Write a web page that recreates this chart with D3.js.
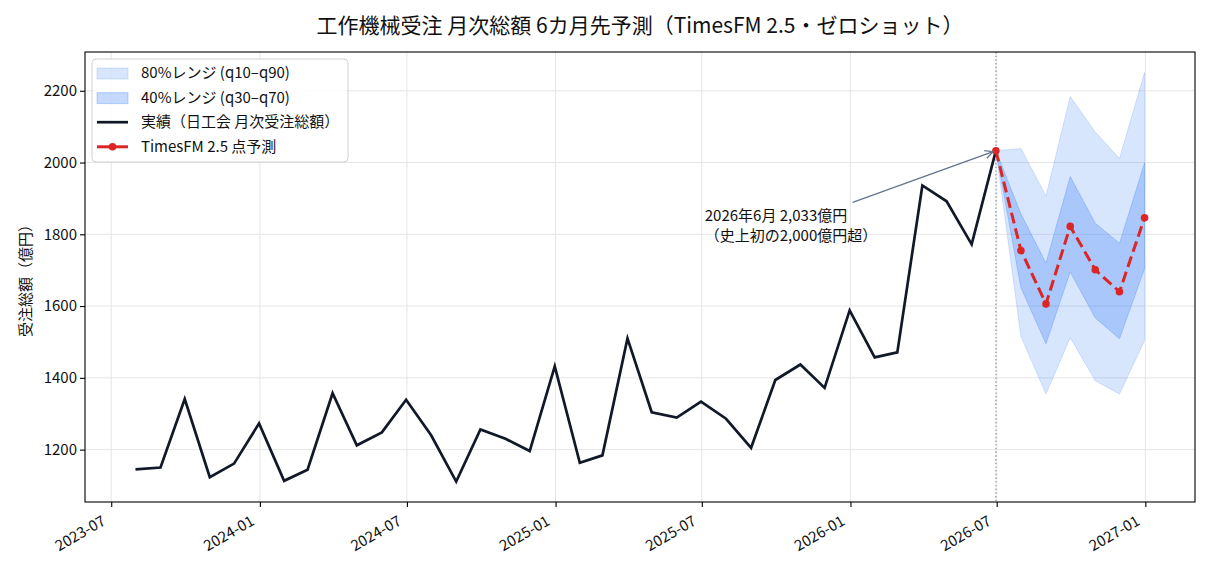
<!DOCTYPE html>
<html>
<head>
<meta charset="utf-8">
<script src="https://cdn.jsdelivr.net/npm/d3@7"></script>
<style>
  body { margin: 0; background: #fff; }
  svg text { font-family: "Noto Sans CJK JP", "Noto Sans", sans-serif; fill: #111; }
</style>
</head>
<body>
<svg id="chart" width="1210" height="572"></svg>
<script>
// actual monthly totals (億円), labelled by month, plotted at month end
const actualMonths = [
  "2023-07","2023-08","2023-09","2023-10","2023-11","2023-12",
  "2024-01","2024-02","2024-03","2024-04","2024-05","2024-06",
  "2024-07","2024-08","2024-09","2024-10","2024-11","2024-12",
  "2025-01","2025-02","2025-03","2025-04","2025-05","2025-06",
  "2025-07","2025-08","2025-09","2025-10","2025-11","2025-12",
  "2026-01","2026-02","2026-03","2026-04","2026-05","2026-06"
];
const actualValues = [
  1145, 1150, 1341, 1123, 1161, 1273,
  1113, 1144, 1357, 1212, 1248, 1339,
  1240, 1111, 1256, 1230, 1196, 1432,
  1163, 1184, 1510, 1304, 1289, 1334,
  1286, 1205, 1394, 1437, 1372, 1588,
  1457, 1471, 1936, 1892, 1772, 2033
];

// TimesFM forecast, 6 months ahead
const forecastMonths = ["2026-07","2026-08","2026-09","2026-10","2026-11","2026-12"];
const pointForecast = [1755, 1606, 1822, 1701, 1640, 1846];
const q10 = [1515, 1355, 1512, 1392, 1355, 1504];
const q30 = [1651, 1495, 1695, 1567, 1509, 1704];
const q70 = [1857, 1720, 1961, 1831, 1775, 1999];
const q90 = [2039, 1907, 2184, 2085, 2011, 2251];

const xTickMonths = ["2023-07","2024-01","2024-07","2025-01","2025-07","2026-01","2026-07","2027-01"];
const yTicks = [1200, 1400, 1600, 1800, 2000, 2200];

const titleText = "工作機械受注 月次総額 6カ月先予測（TimesFM 2.5・ゼロショット）";
const yLabel = "受注総額（億円）";
const legendLabels = ["80%レンジ (q10–q90)", "40%レンジ (q30–q70)", "実績（日工会 月次受注総額）", "TimesFM 2.5 点予測"];
const noteLines = ["2026年6月 2,033億円", "（史上初の2,000億円超）"];

const parseMonth = d3.timeParse("%Y-%m");
const monthEnd = s => d3.timeDay.offset(d3.timeMonth.offset(parseMonth(s), 1), -1);

const margin = {top: 52, right: 15, bottom: 70, left: 85};
const W = 1210, H = 572;
const width = W - margin.left - margin.right;
const height = H - margin.top - margin.bottom;

const BLUE = "#3b82f6", NAVY = "#111827", RED = "#dc2626", SLATE = "#64748b";

const actual = actualMonths.map((m, i) => ({date: monthEnd(m), value: actualValues[i]}));
const last = actual[actual.length - 1];
const fc = [{date: last.date, p: last.value, q10: last.value, q30: last.value, q70: last.value, q90: last.value}]
  .concat(forecastMonths.map((m, i) => ({
    date: monthEnd(m), p: pointForecast[i], q10: q10[i], q30: q30[i], q70: q70[i], q90: q90[i]
  })));

// matplotlib-style 5% margins
const t0 = actual[0].date, t1 = fc[fc.length - 1].date;
const tPad = (t1 - t0) * 0.05;
const x = d3.scaleTime()
  .domain([new Date(+t0 - tPad), new Date(+t1 + tPad)])
  .range([0, width]);

const allVals = actualValues.concat(q10, q90);
const vMin = d3.min(allVals), vMax = d3.max(allVals);
const vPad = (vMax - vMin) * 0.05;
const y = d3.scaleLinear().domain([vMin - vPad, vMax + vPad]).range([height, 0]);

const svg = d3.select("#chart");

svg.append("text")
  .attr("x", margin.left + width / 2)
  .attr("y", 33)
  .attr("text-anchor", "middle")
  .attr("font-size", "21px")
  .text(titleText);

const g = svg.append("g").attr("transform", `translate(${margin.left},${margin.top})`);

// grid
const xTicks = xTickMonths.map(parseMonth);
g.append("g").selectAll("line").data(xTicks).join("line")
  .attr("x1", d => x(d)).attr("x2", d => x(d))
  .attr("y1", 0).attr("y2", height)
  .attr("stroke", "#e6e6e6").attr("stroke-width", 1);
g.append("g").selectAll("line").data(yTicks).join("line")
  .attr("x1", 0).attr("x2", width)
  .attr("y1", d => y(d)).attr("y2", d => y(d))
  .attr("stroke", "#e6e6e6").attr("stroke-width", 1);

// bands
const area = (lo, hi) => d3.area().x(d => x(d.date)).y0(d => y(d[lo])).y1(d => y(d[hi]));
g.append("path").datum(fc)
  .attr("d", area("q10", "q90"))
  .attr("fill", BLUE).attr("fill-opacity", 0.2)
  .attr("stroke", BLUE).attr("stroke-opacity", 0.2).attr("stroke-width", 1);
g.append("path").datum(fc)
  .attr("d", area("q30", "q70"))
  .attr("fill", BLUE).attr("fill-opacity", 0.3)
  .attr("stroke", BLUE).attr("stroke-opacity", 0.3).attr("stroke-width", 1);

// forecast origin line
g.append("line")
  .attr("x1", x(last.date)).attr("x2", x(last.date))
  .attr("y1", 0).attr("y2", height)
  .attr("stroke", "#8a94a6").attr("stroke-width", 1.2)
  .attr("stroke-dasharray", "1.4 2.3");

// actual
g.append("path").datum(actual)
  .attr("d", d3.line().x(d => x(d.date)).y(d => y(d.value)))
  .attr("fill", "none").attr("stroke", NAVY).attr("stroke-width", 2.7)
  .attr("stroke-linejoin", "miter");

// forecast
g.append("path").datum(fc)
  .attr("d", d3.line().x(d => x(d.date)).y(d => y(d.p)))
  .attr("fill", "none").attr("stroke", RED).attr("stroke-width", 3)
  .attr("stroke-dasharray", "11 5");
g.append("g").selectAll("circle").data(fc).join("circle")
  .attr("cx", d => x(d.date)).attr("cy", d => y(d.p))
  .attr("r", 3.8).attr("fill", RED);

// axes
const xAxis = g.append("g")
  .attr("transform", `translate(0,${height})`)
  .call(d3.axisBottom(x).tickValues(xTicks).tickFormat(d3.timeFormat("%Y-%m")).tickSizeOuter(0).tickSize(5));
xAxis.select(".domain").remove();
xAxis.selectAll("text")
  .attr("font-size", "15px")
  .attr("text-anchor", "end")
  .attr("dy", "0")
  .attr("y", 0)
  .attr("transform", "translate(-5,22) rotate(-30)");

const yAxis = g.append("g")
  .call(d3.axisLeft(y).tickValues(yTicks).tickFormat(d3.format("d")).tickSizeOuter(0).tickSize(5));
yAxis.select(".domain").remove();
yAxis.selectAll("text").attr("font-size", "15px").attr("x", -8);
svg.selectAll(".tick line").attr("stroke", "#000").attr("stroke-width", 1.1);

g.append("rect")
  .attr("width", width).attr("height", height)
  .attr("fill", "none").attr("stroke", "#000").attr("stroke-width", 1.1);

svg.append("text")
  .attr("transform", `translate(31,${margin.top + height / 2}) rotate(-90)`)
  .attr("text-anchor", "middle")
  .attr("font-size", "15px")
  .text(yLabel);

// annotation
const noteAt = {date: new Date(2025, 6, 1), value: 1836};
const note = g.append("text")
  .attr("x", x(noteAt.date)).attr("y", y(noteAt.value))
  .attr("font-size", "15px");
note.selectAll("tspan").data(noteLines).join("tspan")
  .attr("x", x(noteAt.date) + 3)
  .attr("dy", (d, i) => i === 0 ? 0 : "1.3em")
  .text(d => d);

const bb = note.node().getBBox();
const cx = bb.x + bb.width / 2, cy = bb.y + bb.height / 2;
const tx = x(last.date), ty = y(last.value);
// clip center->target line to the text box top edge
const tt = (bb.y - 2 - cy) / (ty - cy);
const sx = cx + (tx - cx) * tt, sy = cy + (ty - cy) * tt;
const len = Math.hypot(tx - sx, ty - sy);
const ex = tx - (tx - sx) / len * 3, ey = ty - (ty - sy) / len * 3;

svg.append("defs").append("marker")
  .attr("id", "head").attr("viewBox", "0 0 10 10")
  .attr("refX", 9).attr("refY", 5)
  .attr("markerWidth", 10).attr("markerHeight", 10)
  .attr("markerUnits", "userSpaceOnUse")
  .attr("orient", "auto")
  .append("path").attr("d", "M1,1 L9,5 L1,9")
  .attr("fill", "none").attr("stroke", SLATE).attr("stroke-width", 1.3);
g.append("line")
  .attr("x1", sx).attr("y1", sy).attr("x2", ex).attr("y2", ey)
  .attr("stroke", SLATE).attr("stroke-width", 1.3)
  .attr("marker-end", "url(#head)");

// legend
const lg = g.append("g").attr("transform", "translate(7,7)");
lg.append("rect")
  .attr("width", 256).attr("height", 103).attr("rx", 4)
  .attr("fill", "#fff").attr("fill-opacity", 0.85)
  .attr("stroke", "#d0d0d0").attr("stroke-width", 1);
const rowY = i => 14 + i * 24.6;
lg.append("rect").attr("x", 5).attr("y", rowY(0) - 5).attr("width", 31).attr("height", 11)
  .attr("fill", BLUE).attr("fill-opacity", 0.2).attr("stroke", BLUE).attr("stroke-opacity", 0.2);
lg.append("rect").attr("x", 5).attr("y", rowY(1) - 5).attr("width", 31).attr("height", 11)
  .attr("fill", BLUE).attr("fill-opacity", 0.3).attr("stroke", BLUE).attr("stroke-opacity", 0.3);
lg.append("line").attr("x1", 5).attr("x2", 36).attr("y1", rowY(2)).attr("y2", rowY(2))
  .attr("stroke", NAVY).attr("stroke-width", 2.7);
lg.append("line").attr("x1", 5).attr("x2", 36).attr("y1", rowY(3)).attr("y2", rowY(3))
  .attr("stroke", RED).attr("stroke-width", 3);
lg.append("circle").attr("cx", 20.5).attr("cy", rowY(3)).attr("r", 3.8).attr("fill", RED);
lg.selectAll("text.lab").data(legendLabels).join("text")
  .attr("class", "lab")
  .attr("x", 49).attr("y", (d, i) => rowY(i))
  .attr("dy", "0.35em")
  .attr("font-size", "15px")
  .text(d => d);
</script>
</body>
</html>
